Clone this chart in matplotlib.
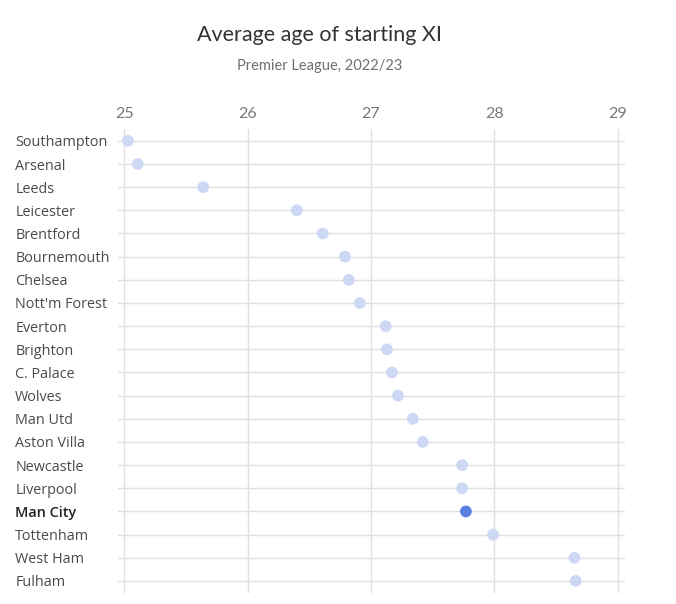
import matplotlib
matplotlib.use("Agg")
import matplotlib.pyplot as plt

teams = ["Southampton", "Arsenal", "Leeds", "Leicester", "Brentford",
         "Bournemouth", "Chelsea", "Nott'm Forest", "Everton", "Brighton",
         "C. Palace", "Wolves", "Man Utd", "Aston Villa", "Newcastle",
         "Liverpool", "Man City", "Tottenham", "West Ham", "Fulham"]
ages = [25.03, 25.11, 25.64, 26.40, 26.61,
        26.79, 26.82, 26.91, 27.12, 27.13,
        27.17, 27.22, 27.34, 27.42, 27.74,
        27.74, 27.77, 27.99, 28.65, 28.66]
highlight = "Man City"
x_ticks = [25, 26, 27, 28, 29]

plt.rcParams['font.family'] = ['Lato', 'DejaVu Sans']

fig = plt.figure(figsize=(6.76, 6.04), dpi=100)
ax = fig.add_axes([0.1746, 0.019, 0.75, 0.767])

ypos = list(range(len(teams)))
colors = ["#5b80e2" if t == highlight else "#cdd8f5" for t in teams]
ax.scatter(ages, ypos, s=72, c=colors, zorder=3, linewidths=0)

ax.set_xlim(24.95, 29.06)
ax.set_ylim(len(teams) - 0.5, -0.5)
ax.set_xticks(x_ticks)
ax.set_xticklabels([str(t) for t in x_ticks])
ax.xaxis.tick_top()
ax.tick_params(axis='x', length=0, pad=6, labelsize=11.5, labelcolor="#777777")

ax.set_yticks(ypos)
ax.set_yticklabels(teams)
ax.tick_params(axis='y', length=0, pad=74, labelsize=10.4, labelcolor="#4a4a4a")
for lbl in ax.get_yticklabels():
    lbl.set_horizontalalignment('left')
    lbl.set_family(['Open Sans', 'DejaVu Sans'])
    if lbl.get_text() == highlight:
        lbl.set_fontweight('semibold')
        lbl.set_color("#222222")

ax.grid(True, color="#e0e0e0", linewidth=1)
ax.set_axisbelow(True)
for s in ax.spines.values():
    s.set_visible(False)

fig.text(0.473, 0.942, "Average age of starting XI", ha='center', va='center',
         fontsize=15.5, color="#333333")
fig.text(0.473, 0.891, "Premier League, 2022/23", ha='center', va='center',
         fontsize=10.5, color="#707070")

fig.savefig("out.png", dpi=100)
